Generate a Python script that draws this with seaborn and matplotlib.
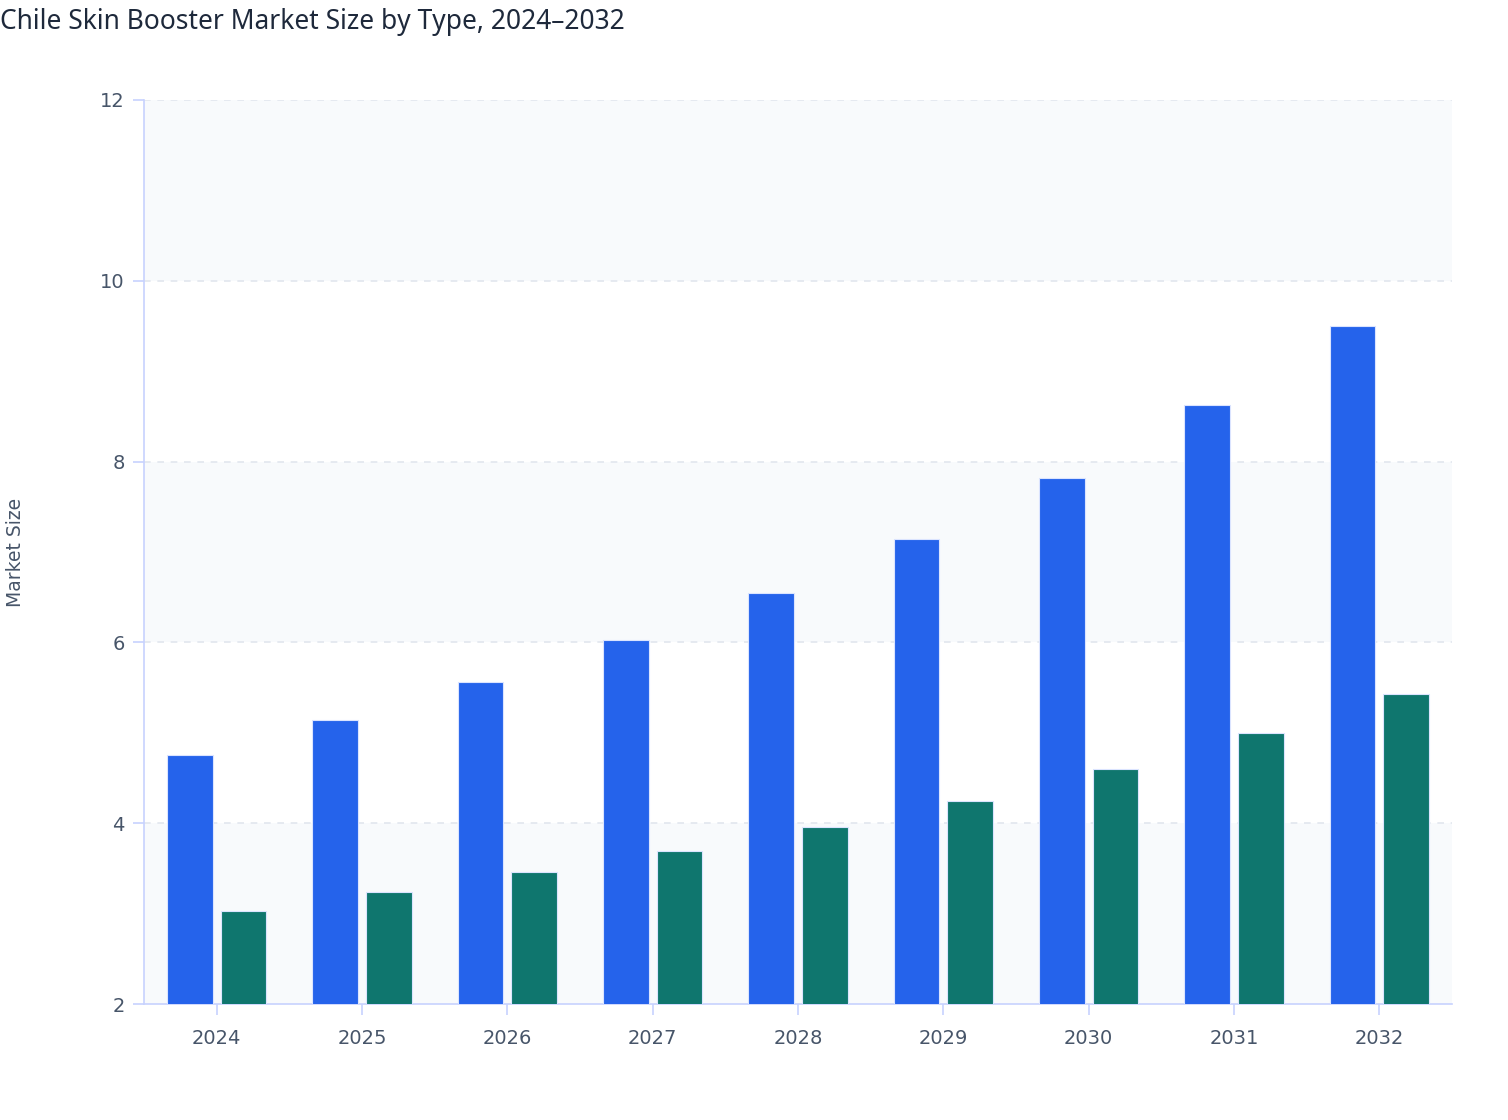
import pandas as pd
import seaborn as sns
import matplotlib.pyplot as plt

# Values
years = ['2024', '2025', '2026', '2027', '2028', '2029', '2030', '2031', '2032']
type_a = [4.75, 5.14, 5.56, 6.03, 6.55, 7.14, 7.82, 8.63, 9.50]
type_b = [3.03, 3.24, 3.46, 3.69, 3.96, 4.25, 4.60, 5.00, 5.43]
series_names = ['Type A', 'Type B']
y_ticks = [2, 4, 6, 8, 10, 12]

data = pd.DataFrame({
    'Year': years * 2,
    'Market Size': type_a + type_b,
    'Type': [series_names[0]] * len(years) + [series_names[1]] * len(years),
})

sns.set_theme(style='white')
plt.rcParams['font.family'] = ['DejaVu Sans']

axis_color = '#c7d2fe'
text_color = '#475569'

fig = plt.figure(figsize=(15.08, 11.2), dpi=100)
ax = fig.add_axes([144 / 1508, 1 - 1004 / 1120, (1452 - 144) / 1508, (1004 - 100) / 1120])

# Alternating background bands
for i in range(0, len(y_ticks) - 1, 2):
    ax.axhspan(y_ticks[i], y_ticks[i + 1], color='#f8fafc', zorder=0, lw=0)

sns.barplot(
    data=data, x='Year', y='Market Size', hue='Type',
    palette=['#2563eb', '#0f766e'], saturation=1, width=0.74, gap=0.15,
    edgecolor='#dbe4ff', linewidth=0.8, legend=False, ax=ax, zorder=3,
)

ax.set_ylim(2, 12)
ax.set_xlim(-0.5, len(years) - 0.5)
ax.set_yticks(y_ticks)
for t in y_ticks[1:]:
    ax.axhline(t, color='#e2e6ee', lw=1.2, ls=(0, (4, 4)), zorder=1)

for side in ['top', 'right']:
    ax.spines[side].set_visible(False)
for side in ['left', 'bottom']:
    ax.spines[side].set_color(axis_color)
    ax.spines[side].set_linewidth(1.2)

ax.tick_params(axis='both', colors=axis_color, labelcolor=text_color,
               labelsize=14, length=8, width=1.2, left=True, bottom=True)
ax.tick_params(axis='x', pad=10)
ax.tick_params(axis='y', pad=6)

ax.set_xlabel('')
ax.set_ylabel('Market Size', fontsize=13.5, color=text_color, labelpad=0)
ax.yaxis.set_label_coords(-0.091, 0.5)

fig.text(0.0, 0.993, 'Chile Skin Booster Market Size by Type, 2024\u20132032',
         fontsize=19, color='#1e293b', fontweight='bold',
         family=['Noto Sans', 'DejaVu Sans'], ha='left', va='top')

fig.savefig('out.png', dpi=100, facecolor='white')
